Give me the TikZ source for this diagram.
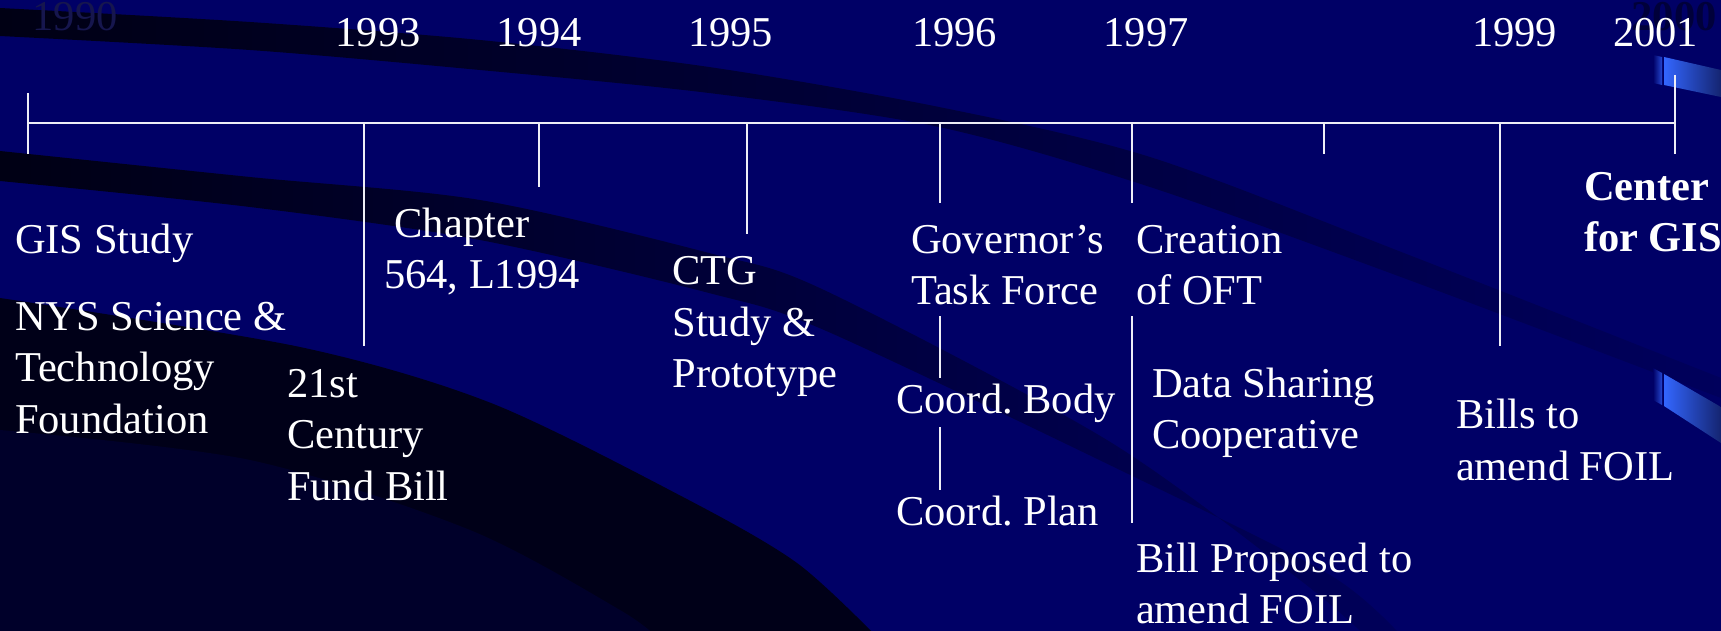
\documentclass[tikz,border=0pt]{standalone}
\usepackage{fontspec}
\setmainfont{Liberation Serif}
\frenchspacing
\definecolor{bg}{HTML}{000066}
\definecolor{deep}{HTML}{000014}
\definecolor{deepc}{HTML}{000018}
\definecolor{innerc}{HTML}{00002A}
\definecolor{ln}{HTML}{EEEEF6}
\definecolor{ghost}{HTML}{16164E}
\definecolor{ghostb}{HTML}{00003A}
\definecolor{rib}{HTML}{3366FF}
\definecolor{ribdark}{HTML}{142470}
\begin{document}
\begin{tikzpicture}[x=1pt,y=-1pt,
  lbl/.style={text=white, font=\fontsize{42.5}{51.5}\selectfont, align=left, anchor=base west, inner sep=0pt, outer sep=0pt},
  yr/.style={text=white, font=\fontsize{42.5}{51.5}\selectfont, anchor=base, inner sep=0pt},
  tick/.style={draw=ln, line width=2.6pt}]
\useasboundingbox (0,0) rectangle (1721,631);
\clip (0,0) rectangle (1721,631);
% background
\fill[bg] (0,0) rectangle (1721,631);
% dark sweeping bands
\shade[left color=deep, middle color=bg!58!black, right color=bg!90!black]
  plot[smooth] coordinates {(0,8) (250,22) (480,40) (709,67) (939,107) (1150,157) (1409,255) (1721,378)}
  -- plot[smooth] coordinates {(1721,398) (1409,280) (1150,187) (939,127) (709,93) (480,70) (250,50) (0,36)} -- cycle;
\shade[left color=deep, middle color=bg!52!black, right color=bg!88!black]
  plot[smooth] coordinates {(0,151) (250,177) (480,200) (709,253) (824,290) (1107,440) (1300,580) (1370,640)}
  -- plot[smooth] coordinates {(1405,640) (1330,575) (1120,470) (824,330) (709,293) (480,240) (250,207) (0,181)} -- cycle;
\fill[deepc]
  plot[smooth] coordinates {(0,298) (300,347) (491,403) (683,497) (797,563) (880,640)}
  -- (0,640) -- cycle;
\fill[innerc]
  plot[smooth] coordinates {(0,430) (250,460) (470,530) (620,610) (660,640)}
  -- (0,640) -- cycle;
% blue ribbons at the right edge
\shade[left color=bg, right color=rib!70!bg] (1653,55) -- (1662,57) -- (1662,85) -- (1653,83) -- cycle;
\shade[left color=rib, middle color=rib!90!white, right color=ribdark] (1664,57) -- (1721,70) -- (1721,97) -- (1664,85) -- cycle;
\shade[left color=bg, right color=rib!70!bg] (1653,368) -- (1662,373) -- (1662,405) -- (1653,400) -- cycle;
\shade[left color=rib, middle color=rib!90!white, right color=ribdark] (1664,374) -- (1721,407) -- (1721,443) -- (1664,406) -- cycle;
% ghost year labels of the template
\node[yr, text=ghost] (g1990) at (75,31) {1990};
\node[yr, text=ghostb, font=\fontsize{42.5}{51.5}\selectfont\bfseries] (g2000) at (1674,31) {2000};
% time line
\coordinate (L0) at (28,123);
\coordinate (L1) at (1675,123);
\draw[tick] (L0) -- (L1);
\foreach \x/\a/\b in {28/93/154, 364/123/346, 539/123/187, 747/123/234, 940/123/203,
                      1132/123/203, 1324/123/154, 1500/123/346, 1675/75/154}
  \draw[tick] (\x,\a) -- (\x,\b);
\draw[tick] (940,316) -- (940,378);
\draw[tick] (940,427) -- (940,490);
\draw[tick] (1132,316) -- (1132,523);
% years
\node[yr] (y1993) at (378,47) {1993};
\node[yr] (y1994) at (539,47) {1994};
\node[yr] (y1995) at (730.5,47) {1995};
\node[yr] (y1996) at (954.5,47) {1996};
\node[yr] (y1997) at (1146,47) {1997};
\node[yr] (y1999) at (1514.5,47) {1999};
\node[yr] (y2001) at (1655.5,47) {2001};
% events (anchor = baseline of the last line)
\node[lbl] (gis) at (15,254) {GIS Study};
\node[lbl] (nys) at (15,433) {NYS Science \&\\Technology\\Foundation};
\node[lbl] (chap) at (384,288.5) {\hspace*{0.25em}Chapter\\564, L1994};
\node[lbl] (cent) at (287,500) {21st\\Century\\Fund Bill};
\node[lbl] (ctg) at (672.5,387.5) {CTG\\Study \&\\Prototype};
\node[lbl] (gov) at (911,304.5) {Governor’s\\Task Force};
\node[lbl] (cbody) at (896,413) {Coord. Body};
\node[lbl] (cplan) at (896,525) {Coord. Plan};
\node[lbl] (oft) at (1136,304.5) {Creation\\of OFT};
\node[lbl] (dsc) at (1152,448.5) {Data Sharing\\Cooperative};
\node[lbl] (bill) at (1136,623.5) {Bill Proposed to\\amend FOIL};
\node[lbl] (bills) at (1456,480) {Bills to\\amend FOIL};
\node[lbl, font=\fontsize{42.5}{51.5}\selectfont\bfseries] (cgis) at (1584,251.5) {Center\\for GIS};
\end{tikzpicture}
\end{document}
